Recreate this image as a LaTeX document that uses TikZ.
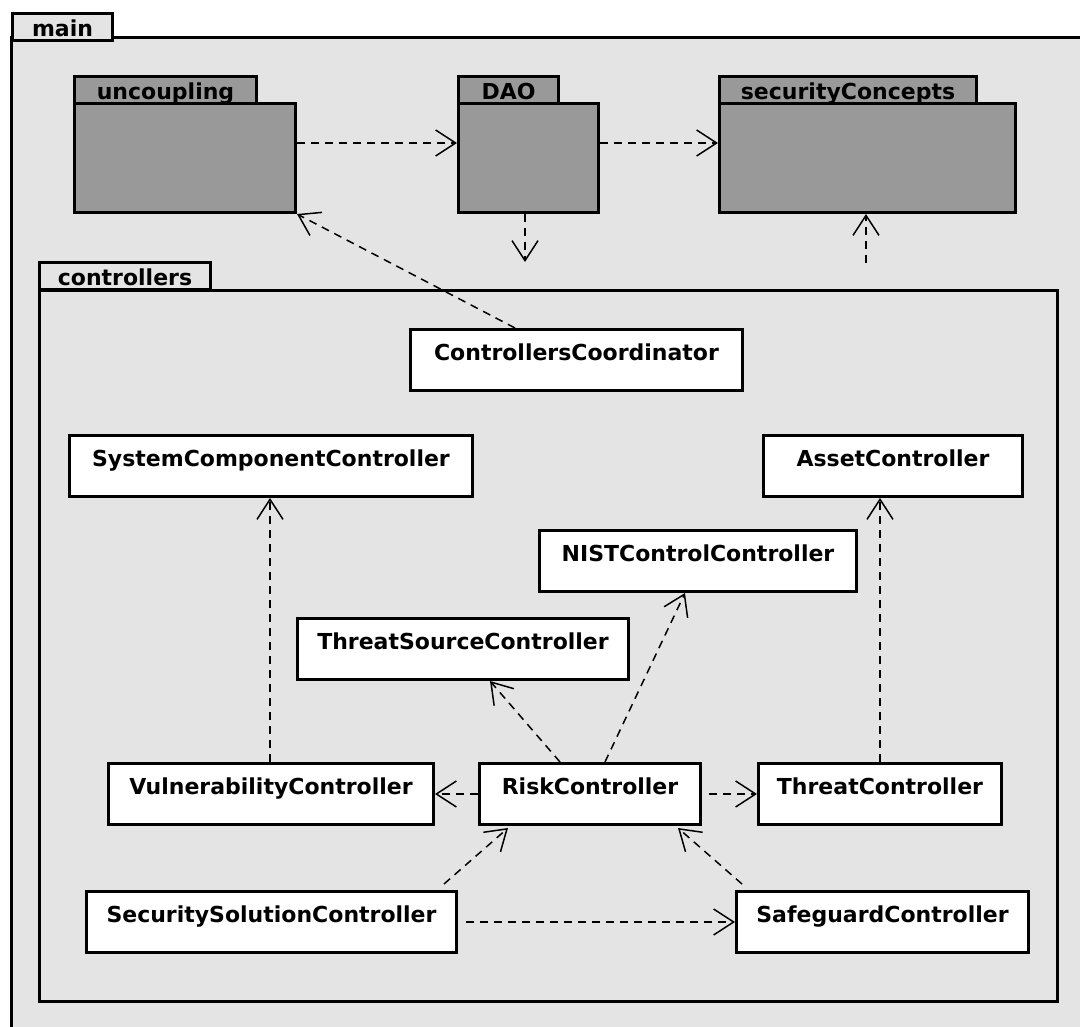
\documentclass[tikz,border=0pt]{standalone}
\usepackage{fontspec}
\setmainfont{DejaVu Sans}
\usetikzlibrary{arrows.meta,calc}
\definecolor{pkgback}{HTML}{E4E4E4}
\definecolor{pkgfill}{HTML}{999999}

\begin{document}
\begin{tikzpicture}[x=1pt, y=-1pt, >={Straight Barb[length=20pt,width=26pt]},
    umlfont/.style={font=\fontsize{22}{26}\selectfont\bfseries},
    pkgtab/.style={draw, line width=3pt, umlfont, anchor=north west,
        inner xsep=0pt, inner ysep=0pt, text height=23pt, text depth=4pt},
    pkgbody/.style={draw, line width=3pt, fill=pkgfill, anchor=north west, inner sep=0pt},
    classbox/.style={draw, line width=3pt, fill=white, umlfont, anchor=north west,
        inner xsep=0pt, inner ysep=0pt, text height=31pt, text depth=30pt},
    depends/.style={->, line width=1.5pt, dash pattern=on 8pt off 6pt}]

    \path[use as bounding box] (0,0) rectangle (1080,1027);
    \clip (0,0) rectangle (1080,1027);
    \fill[white] (0,0) rectangle (1080,1027);

    % 1. Outer package "main"
    \filldraw[line width=3pt, fill=pkgback] (11,38) rectangle (1110,1060);
    \node[pkgtab, fill=pkgback, minimum width=100pt] (maintab) at (11,12) {main};

    % 2. Collapsed packages along the top
    \node[pkgtab, fill=pkgfill, minimum width=182pt] (unctab) at (73,75) {uncoupling};
    \node[pkgbody, minimum width=221pt, minimum height=109pt] (unc) at (73,102) {};
    \node[pkgtab, fill=pkgfill, minimum width=100pt] (daotab) at (457,75) {DAO};
    \node[pkgbody, minimum width=140pt, minimum height=109pt] (dao) at (457,102) {};
    \node[pkgtab, fill=pkgfill, minimum width=257pt] (sectab) at (718,75) {securityConcepts};
    \node[pkgbody, minimum width=296pt, minimum height=109pt] (sec) at (718,102) {};

    % 3. Package "controllers" with its classes
    \node[pkgtab, fill=pkgback, minimum width=171pt] (ctrltab) at (38,261) {controllers};
    \node[pkgbody, fill=pkgback, minimum width=1018pt, minimum height=711pt] (ctrl) at (38,289) {};

    \node[classbox, minimum width=332pt] (coord) at (409,328) {ControllersCoordinator};
    \node[classbox, minimum width=403pt] (syscomp) at (68,434) {SystemComponentController};
    \node[classbox, minimum width=259pt] (asset) at (762,434) {AssetController};
    \node[classbox, minimum width=317pt] (nist) at (538,529) {NISTControlController};
    \node[classbox, minimum width=331pt] (tsrc) at (296,617) {ThreatSourceController};
    \node[classbox, minimum width=325pt] (vuln) at (107,762) {VulnerabilityController};
    \node[classbox, minimum width=221pt] (risk) at (478,762) {RiskController};
    \node[classbox, minimum width=243pt] (threat) at (757,762) {ThreatController};
    \node[classbox, minimum width=370pt] (secsol) at (85,890) {SecuritySolutionController};
    \node[classbox, minimum width=292pt] (safeg) at (735,890) {SafeguardController};

    % 4. Dependencies
    \coordinate (daoend) at (525,262);
    \coordinate (secstart) at (866,263);

    \draw[depends] ($(unc.north east)+(0,41)$) -- ($(dao.north west)+(0,41)$);
    \draw[depends] ($(dao.north east)+(0,41)$) -- ($(sec.north west)+(0,41)$);
    \draw[depends] ($(dao.south west)+(68,0)$) -- (daoend);
    \draw[depends] (secstart) -- ($(sec.south west)+(148,0)$);
    \draw[depends] ($(coord.north west)+(106,0)$) -- (unc.south east);

    \draw[depends] ($(vuln.north west)+(163,0)$) -- ($(syscomp.south west)+(202,0)$);
    \draw[depends] ($(threat.north west)+(123,0)$) -- ($(asset.south west)+(118,0)$);
    \draw[depends] ($(risk.north west)+(82,0)$) -- ($(tsrc.south west)+(194,0)$);
    \draw[depends] ($(risk.north west)+(127,0)$) -- ($(nist.south west)+(147,0)$);
    \draw[depends] (risk.west) -- (vuln.east);
    \draw[depends, shorten <=7pt] (risk.east) -- (threat.west);
    \draw[depends] ($(secsol.north west)+(359,-6)$) -- ($(risk.south west)+(30,2)$);
    \draw[depends] ($(safeg.north west)+(7,-6)$) -- ($(risk.south west)+(200,2)$);
    \draw[depends, shorten <=8pt] (secsol.east) -- (safeg.west);
\end{tikzpicture}
\end{document}
